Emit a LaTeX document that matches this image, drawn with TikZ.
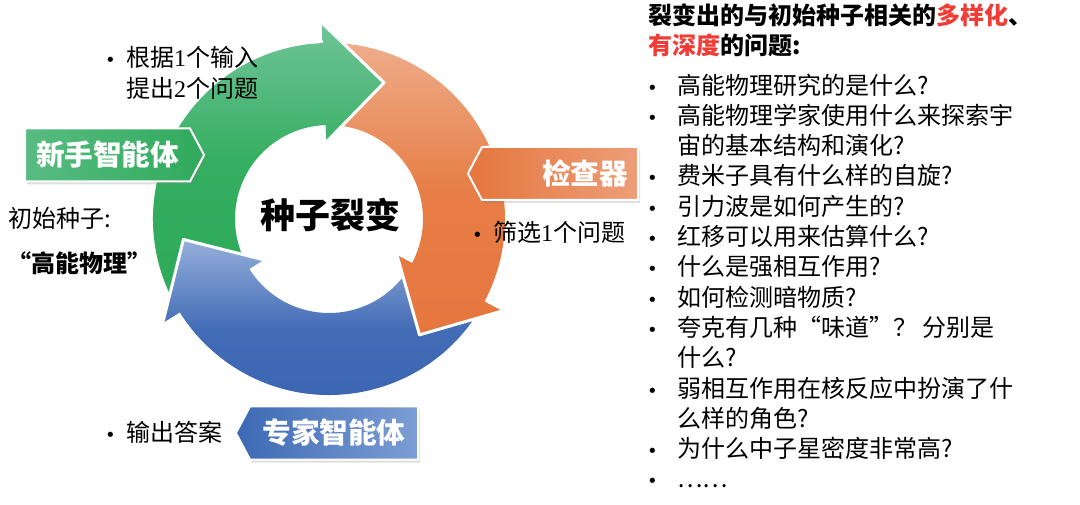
\documentclass[tikz,border=0pt]{standalone}
\usepackage{fontspec}
\setmainfont{Noto Sans CJK SC}
\newfontfamily\symfont{DejaVu Sans}
\newfontfamily\numfont{Liberation Serif}
\usetikzlibrary{shapes.symbols,shadows}

\definecolor{grnT}{RGB}{112,196,152}
\definecolor{grnM}{RGB}{52,174,96}
\definecolor{grnB}{RGB}{46,170,90}
\definecolor{orgT}{RGB}{238,172,138}
\definecolor{orgM}{RGB}{231,126,70}
\definecolor{orgB}{RGB}{229,118,62}
\definecolor{bluT}{RGB}{150,175,218}
\definecolor{bluM}{RGB}{66,108,182}
\definecolor{bluB}{RGB}{58,100,176}
\definecolor{hl}{RGB}{240,60,55}

% bullet in a box of given width, and the same empty box
\newcommand{\bul}[1]{\makebox[#1][l]{{\symfont\fontsize{18}{18}\selectfont •}}}
\newcommand{\ind}[1]{\makebox[#1]{}}
% one circular arrow, head base at angle #1
\newcommand{\ringpath}[1]{({#1+117}:176pt) arc[start angle={#1+117}, end angle={#1}, radius=176pt]
  -- ({#1}:196pt) -- ({#1-24}:147pt) -- ({#1}:77pt) -- ({#1}:94pt)
  arc[start angle={#1}, end angle={#1+117}, radius=94pt] -- cycle}

\begin{document}
\begin{tikzpicture}[x=1pt, y=1pt,
    txt/.style={font=\fontsize{24}{30.3}\selectfont, inner sep=0, align=left},
    heavy/.style={font=\fontsize{#1}{#1}\selectfont\bfseries, inner sep=0},
    tag/.style={signal, signal pointer angle=124, draw=white, line width=2pt,
        minimum height=53pt, inner xsep=11pt, inner ysep=0pt, text=white,
        font=\fontsize{28.6}{30}\selectfont\bfseries,
        drop shadow={opacity=0.25, shadow xshift=2pt, shadow yshift=-3pt}},
    gap/.style={draw=white, line width=3pt, line join=round}
]
\useasboundingbox (0,0) rectangle (1080,504);

% the three arrows of the cycle
\begin{scope}[shift={(329,285)}]
  \foreach \b/\ct/\cm/\cb in {92/grnT/grnM/grnB, -28/orgT/orgM/orgB, 212/bluT/bluM/bluB}
    \shade[top color=\ct, bottom color=\cb, middle color=\cm] \ringpath{\b};
  % heads lie over the tail of the next arrow
  \foreach \b/\ct/\cm/\cb in {92/grnT/grnM/grnB, -28/orgT/orgM/orgB, 212/bluT/bluM/bluB}{
    \begin{scope}
      \clip (\b:196pt) -- ({\b-24}:147pt) -- (\b:77pt) -- cycle;
      \shade[top color=\ct, bottom color=\cb, middle color=\cm] \ringpath{\b};
    \end{scope}
    \draw[gap] (\b:196pt) -- ({\b-24}:147pt) -- (\b:77pt);
  }
\end{scope}

\node[heavy=35] (seed) at (330,289) {种子裂变};

% agents
\node[tag, signal to=east, left color={rgb,255:red,88;green,188;blue,130},
    right color={rgb,255:red,48;green,170;blue,92}] (novice) at (107.5,349) {新手智能体};
\node[tag, signal to=west, text width=136pt, align=right, inner xsep=10pt,
    left color=orgB, right color={rgb,255:red,237;green,158;blue,120}] (checker) at (560,330.5) {检查器};
\node[tag, signal to=west, inner xsep=12.5pt, left color={rgb,255:red,60;green,105;blue,180},
    right color={rgb,255:red,125;green,158;blue,212}] (expert) at (334,71) {专家智能体};

% notes beside the cycle
\node[txt, anchor=west, font=\fontsize{24}{31}\selectfont] (propose) at (105,431.5)
    {\bul{21pt}根据{\numfont 1}个输入\\\ind{21pt}提出{\numfont 2}个问题};
\node[txt, anchor=west] (seedlabel) at (8,286) {初始种子:};
\node[heavy=24] (seedword) at (80,241) {“高能物理”};
\node[txt, anchor=west] (filter) at (472,272) {\bul{21pt}筛选{\numfont 1}个问题};
\node[txt, anchor=west] (answer) at (105,72) {\bul{21pt}输出答案};

% generated questions
\node[txt, anchor=west, font=\fontsize{24}{30}\selectfont\bfseries] (title) at (648,474)
    {裂变出的与初始种子相关的\textcolor{hl}{多样化}、\\\textcolor{hl}{有深度}的问题:};
\node[txt, anchor=west] (questions) at (647,223) {%
\bul{30pt}高能物理研究的是什么?\\
\bul{30pt}高能物理学家使用什么来探索宇\\
\ind{30pt}宙的基本结构和演化?\\
\bul{30pt}费米子具有什么样的自旋?\\
\bul{30pt}引力波是如何产生的?\\
\bul{30pt}红移可以用来估算什么?\\
\bul{30pt}什么是强相互作用?\\
\bul{30pt}如何检测暗物质?\\
\bul{30pt}夸克有几种“味道”？ 分别是\\
\ind{30pt}什么?\\
\bul{30pt}弱相互作用在核反应中扮演了什\\
\ind{30pt}么样的角色?\\
\bul{30pt}为什么中子星密度非常高?\\
\bul{30pt}……};
\end{tikzpicture}
\end{document}
